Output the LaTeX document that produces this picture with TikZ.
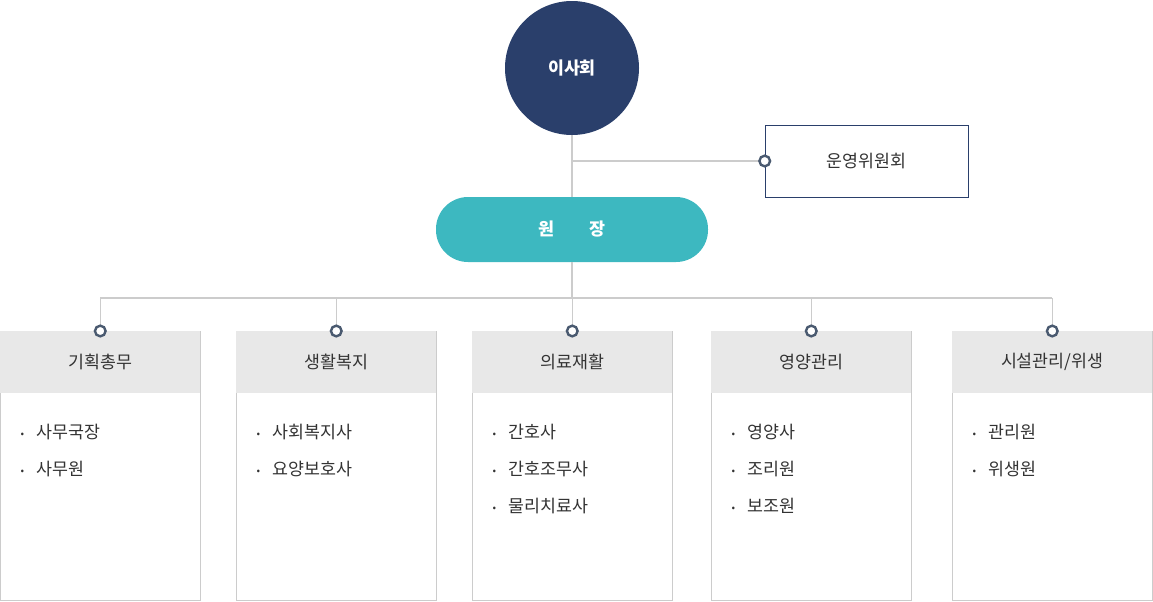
\documentclass[tikz,border=0pt]{standalone}
\usepackage{fontspec}
\setmainfont{Noto Sans CJK KR}
\usetikzlibrary{positioning}
\definecolor{navy}{HTML}{2A3F6B}
\definecolor{teal}{HTML}{3DB8C0}
\definecolor{linegray}{HTML}{CCCCCC}
\definecolor{headgray}{HTML}{E8E8E8}
\definecolor{dotc}{HTML}{4A5A70}
\definecolor{txt}{HTML}{333333}
\newcommand{\slashsep}{/}
\tikzset{
  conn/.style={draw=linegray, line width=0.8pt},
  joint/.style={circle, draw=dotc, fill=white, line width=1.8pt, minimum size=8pt, inner sep=0pt},
  dept/.style={draw=linegray, fill=white, minimum width=150pt, minimum height=201.75pt, inner sep=0pt, anchor=north west},
  head/.style={fill=headgray, minimum width=150pt, minimum height=46.5pt, inner sep=0pt, anchor=north west, font=\fontsize{13}{15}\selectfont, text=txt},
  item/.style={anchor=west, font=\fontsize{13}{15}\selectfont, text=txt},
}
\begin{document}
\begin{tikzpicture}[x=0.75pt, y=-0.75pt]
\useasboundingbox (0,0) rectangle (1153,601);
% board and director
\node (board) [circle, fill=navy, minimum size=100.5pt, text=white, font=\fontsize{13}{15}\selectfont\bfseries] at (572,68) {이사회};
\node (cmte) [draw=navy, minimum width=152.25pt, minimum height=54pt, inner sep=0pt, font=\fontsize{13}{15}\selectfont, text=txt] at (866.5,161) {운영위원회};
\node (head) [rounded corners=24pt, fill=teal, minimum width=204pt, minimum height=48.75pt, text=white, font=\fontsize{13}{15}\selectfont\bfseries] at (572,229.5) {원\hspace{2em}장};
\coordinate (split) at (572,161);
\draw [conn] (board) -- (head);
\draw [conn] (split) -- (cmte.west);
\node [joint] at (cmte.west) {};
% departments
\coordinate (bus) at (572,298);
\draw [conn] (head) -- (bus);
\draw [conn] (100,298) -- (1052,298);
\foreach \x/\name/\title/\items in {
  0/plan/기획총무/{사무국장,사무원},
  236/welf/생활복지/{사회복지사,요양보호사},
  472/med/의료재활/{간호사,간호조무사,물리치료사},
  711/nutr/영양관리/{영양사,조리원,보조원},
  952/fac/{시설관리\slashsep 위생}/{관리원,위생원}}{
  \node (\name) [dept] at (\x,331) {};
  \node (\name-h) [head] at (\x,331) {\title};
  \coordinate (\name-top) at (\name-h.north);
  \draw [conn] (\name-top |- bus) -- (\name-top);
  \node [joint] at (\name-top) {};
  \foreach \it [count=\i] in \items {
    \node [item] at (\x+16,395+37*\i) {\raisebox{1pt}{\scalebox{0.6}{•}}\hspace{9pt}\it};
  }
}
\end{tikzpicture}
\end{document}
